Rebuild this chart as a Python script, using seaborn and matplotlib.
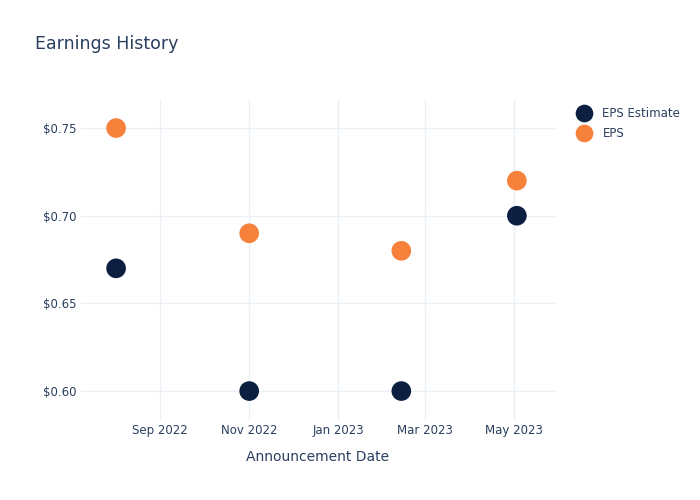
import matplotlib
matplotlib.use("Agg")
import matplotlib.pyplot as plt
import matplotlib.dates as mdates
import matplotlib.ticker as mticker
import seaborn as sns
import pandas as pd

dates = ["2022-08-02", "2022-11-01", "2023-02-13", "2023-05-03"]
eps_estimate = [0.67, 0.60, 0.60, 0.70]
eps_actual = [0.75, 0.69, 0.68, 0.72]
series_names = ["EPS Estimate", "EPS"]
colors = ["#0c1f41", "#f5813a"]

df = pd.DataFrame({
    "date": pd.to_datetime(dates * 2),
    "value": eps_estimate + eps_actual,
    "series": [series_names[0]] * len(dates) + [series_names[1]] * len(dates),
})

sns.set_style("white")
plt.rcParams["font.family"] = ["DejaVu Sans"]
text_color = "#2a3f5f"

fig = plt.figure(figsize=(7, 5), dpi=100)
ax = fig.add_axes([0.1157, 0.16, 0.677, 0.64])

sns.scatterplot(data=df, x="date", y="value", hue="series", hue_order=series_names,
                palette=colors, s=200, edgecolor="none", ax=ax, zorder=3, legend=True)

ax.set_xlim(pd.Timestamp("2022-07-09"), pd.Timestamp("2023-05-29"))
ax.set_ylim(0.5835, 0.766)
ax.xaxis.set_major_locator(mdates.MonthLocator(bymonth=[1, 3, 5, 7, 9, 11]))
ax.xaxis.set_major_formatter(mdates.DateFormatter("%b %Y"))
ax.yaxis.set_major_locator(mticker.FixedLocator([0.60, 0.65, 0.70, 0.75]))
ax.yaxis.set_major_formatter(mticker.FuncFormatter(lambda v, p: f"${v:.2f}"))
ax.grid(True, color="#ebf0f8", linewidth=1, zorder=0)
for s in ax.spines.values():
    s.set_visible(False)
ax.tick_params(axis="both", colors=text_color, labelsize=8.5, length=0)
ax.tick_params(axis="x", pad=3)
ax.tick_params(axis="y", pad=3)
ax.set_xlabel("Announcement Date", color=text_color, fontsize=10, labelpad=9)
ax.set_ylabel("")

fig.text(0.05, 0.912, "Earnings History", color=text_color, fontsize=12.5, va="center")

leg = ax.legend(loc="upper left", bbox_to_anchor=(0.81, 0.795), bbox_transform=fig.transFigure,
                frameon=False, fontsize=8.5, handletextpad=0.6, labelspacing=0.6,
                markerscale=0.9, borderaxespad=0)
for t in leg.get_texts():
    t.set_color(text_color)

fig.savefig("out.png", dpi=100)
